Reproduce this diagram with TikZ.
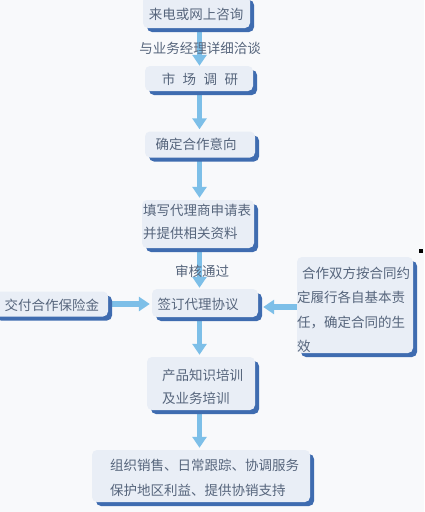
\documentclass[tikz,border=0pt]{standalone}
\usepackage{fontspec}
\setmainfont{Noto Sans CJK SC}
\usetikzlibrary{arrows.meta,shadows,calc}
\definecolor{bgc}{HTML}{F8F9FB}
\definecolor{boxfill}{HTML}{E9EEF6}
\definecolor{shadowblue}{HTML}{3F6CB0}
\definecolor{arrowblue}{HTML}{7DBFE8}
\definecolor{txtc}{HTML}{56657C}
\pgfdeclarelayer{bglayer}\pgfsetlayers{bglayer,main}
\begin{document}
\begin{tikzpicture}[x=1pt,y=-1pt,
  box/.style={draw=none, fill=boxfill, rounded corners=5pt, inner sep=0pt,
    drop shadow={shadow xshift=4pt, shadow yshift=-4pt, fill=shadowblue, opacity=1}},
  txt/.style={text=txtc, font=\fontsize{13.5}{23}\selectfont, inner sep=0pt, align=left},
  arr/.style={draw=arrowblue, line width=5.5pt, -{Triangle[width=14pt,length=11pt]}}]
\useasboundingbox (0,0) rectangle (424,512);
% boxes
\node[box, minimum width=107pt, minimum height=32pt] (b1) at (196.5,12) {};
\node[txt] (t1) at (196,14) {来电或网上咨询};
\node[box, minimum width=108pt, minimum height=25pt] (b2) at (199,78.5) {};
\node[txt] (t2) at (200,79) {市\hspace{7.5pt}场\hspace{7.5pt}调\hspace{7.5pt}研};
\node[box, minimum width=110pt, minimum height=26pt] (b3) at (200,144.5) {};
\node[txt] (t3) at (196,144) {确定合作意向};
\node[box, minimum width=112pt, minimum height=48pt] (b4) at (198,224) {};
\node[txt, anchor=west] (t4) at (143,222) {填写代理商申请表\\并提供相关资料};
\node[box, minimum width=106pt, minimum height=28pt] (b5) at (205,303) {};
\node[txt] (t5) at (198,304) {签订代理协议};
\node[box, minimum width=116pt, minimum height=25pt] (lb) at (50,304) {};
\node[txt] (tl) at (52,305) {交付合作保险金};
\node[box, minimum width=116pt, minimum height=96pt] (rb) at (355,305) {};
\node[txt, anchor=west, font=\fontsize{13.5}{24.5}\selectfont] (tr) at (297,310)
  {\hspace{5pt}合作双方按合同约\\定履行各自基本责\\任，确定合同的生\\效};
\node[box, minimum width=108pt, minimum height=53pt] (b6) at (201,383.5) {};
\node[txt, anchor=west] (t6) at (162,386.5) {产品知识培训\\及业务培训};
\node[box, minimum width=218pt, minimum height=52pt] (b7) at (201,476) {};
\node[txt, anchor=west, font=\fontsize{13.5}{25}\selectfont] (t7) at (110,477.5)
  {组织销售、日常跟踪、协调服务\\保护地区利益、提供协销支持};
% labels
\node[txt] (l1) at (200,48) {与业务经理详细洽谈};
\node[txt] (l2) at (202,271) {审核通过};
% stray mark
\fill[black] (419,249) rectangle (423,253);
% arrows
\coordinate (ax) at (199.5,0);
\begin{pgfonlayer}{bglayer}
\fill[bgc] (0,0) rectangle (424,512);
\draw[arr] (b1.south -| ax) -- (b2.north -| ax);
\draw[arr] (b2.south -| ax) -- ([yshift=2pt]b3.north -| ax);
\draw[arr] (b3.south -| ax) -- ([yshift=2pt]b4.north -| ax);
\draw[arr] (b4.south -| ax) -- ([yshift=1pt]b5.north -| ax);
\draw[arr] (b5.south -| ax) -- ([yshift=2pt]b6.north -| ax);
\draw[arr] (b6.south -| ax) -- ([yshift=2pt]b7.north -| ax);
\draw[arr] (lb.east) -- ([xshift=-2pt]lb.east -| b5.west);
\draw[arr] ([yshift=-2pt]rb.west) -- ([yshift=-2pt, xshift=5pt]rb.west -| b5.east);
\end{pgfonlayer}
\end{tikzpicture}
\end{document}
